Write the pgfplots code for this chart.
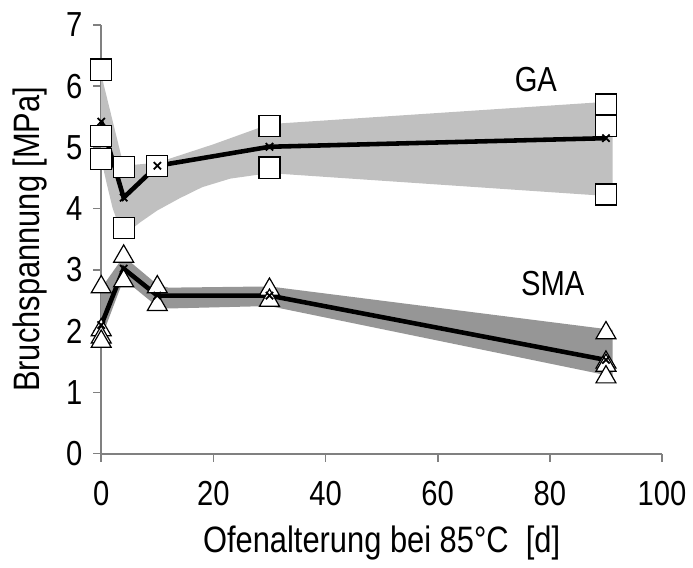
\documentclass[border=0pt]{standalone}
\usepackage{fontspec}
\setmainfont{Liberation Sans}[FakeStretch=0.84]
\usepackage{pgfplots}
\pgfplotsset{compat=1.18}
\usepgfplotslibrary{fillbetween}
\definecolor{bandGA}{HTML}{C0C0C0}
\definecolor{bandSMA}{HTML}{969696}
\definecolor{axgray}{HTML}{808080}

\begin{document}
\begin{tikzpicture}
\begin{axis}[
    scale only axis,
    width=282.5pt,
    height=216pt,
    xmin=0, xmax=100,
    ymin=0, ymax=7,
    axis lines=left,
    axis line style={-, axgray, line width=0.9pt},
    xtick={0,20,...,100},
    ytick={0,1,...,7},
    tick style={axgray, line width=0.8pt},
    tick align=outside,
    major tick length=4pt,
    tick label style={font=\fontsize{17.5}{19}\selectfont},
    /pgf/number format/assume math mode=true,
    xticklabel style={anchor=center, yshift=-16pt},
    yticklabel style={anchor=east, xshift=-2pt},
    xlabel={Ofenalterung bei 85°C\ \ [d]},
    ylabel={Bruchspannung [MPa]},
    label style={font=\fontsize{18.5}{20}\selectfont},
    xlabel style={at={(axis description cs:0.5,-0.208)}, anchor=center},
    ylabel style={at={(axis description cs:-0.127,0.5)}, anchor=center},
    clip=false,
]
% bands (envelopes)
\addplot[name path=gaU, draw=none, forget plot] coordinates {
    (0,6.19) (4,4.70) (10,4.75) (20,5.05) (30,5.38) (91.2,5.75)
};
\addplot[name path=gaL, draw=none, forget plot] coordinates {
    (0,4.80) (1,4.40) (2,4.02) (3,3.75) (4.5,3.60) (7,3.78) (10,3.97)
    (14,4.17) (18,4.35) (23,4.49) (30,4.58) (91.2,4.20)
};
\addplot[bandGA, forget plot] fill between[of=gaU and gaL];

\addplot[name path=smaU, draw=none, forget plot] coordinates {
    (0,2.70) (4,3.22) (10,2.76) (12,2.71) (30,2.73) (91.2,2.02)
};
\addplot[name path=smaL, draw=none, forget plot] coordinates {
    (0,1.88) (4,2.85) (10,2.40) (12,2.37) (30,2.41) (91.2,1.26)
};
\addplot[bandSMA, forget plot] fill between[of=smaU and smaL];

% mean lines
\addplot[black, line width=2.3pt] coordinates {
    (0,5.42) (4,4.18) (10,4.70) (30,5.01) (90,5.15)
};
\addplot[black, line width=2.3pt] coordinates {
    (0,2.10) (4,3.02) (10,2.58) (30,2.58) (90,1.53)
};

% single measurements
\addplot[only marks, mark=square*, mark size=5.3pt,
    mark options={fill=white, draw=black, line width=0.6pt}] coordinates {
    (0,6.27) (0,5.19) (0,4.81)
    (4,4.68) (4,3.68)
    (10,4.70)
    (30,5.35) (30,4.67)
    (90,5.70) (90,5.35) (90,4.23)
};
\addplot[only marks, mark=triangle*, mark size=5.8pt,
    mark options={fill=white, draw=black, line width=0.6pt}] coordinates {
    (0,2.72) (0,2.02) (0,1.90) (0,1.83)
    (4,3.22) (4,2.82)
    (10,2.72) (10,2.43)
    (30,2.68) (30,2.50)
    (90,1.97) (90,1.49) (90,1.44) (90,1.25)
};

% mean markers
\addplot[only marks, mark=x, mark size=2.6pt,
    mark options={black, line width=0.9pt}] coordinates {
    (0,5.42) (4,4.18) (10,4.70) (30,5.01) (90,5.15)
    (0,2.10) (4,3.02) (10,2.58) (30,2.58) (90,1.53)
};

\node[font=\fontsize{17.5}{19}\selectfont] at (axis cs:77.5,6.1) {GA};
\node[font=\fontsize{17.5}{19}\selectfont] at (axis cs:80.5,2.78) {SMA};

\path (rel axis cs:-0.1805,-0.266) (rel axis cs:1.046,1.058);
\end{axis}
\end{tikzpicture}
\end{document}
